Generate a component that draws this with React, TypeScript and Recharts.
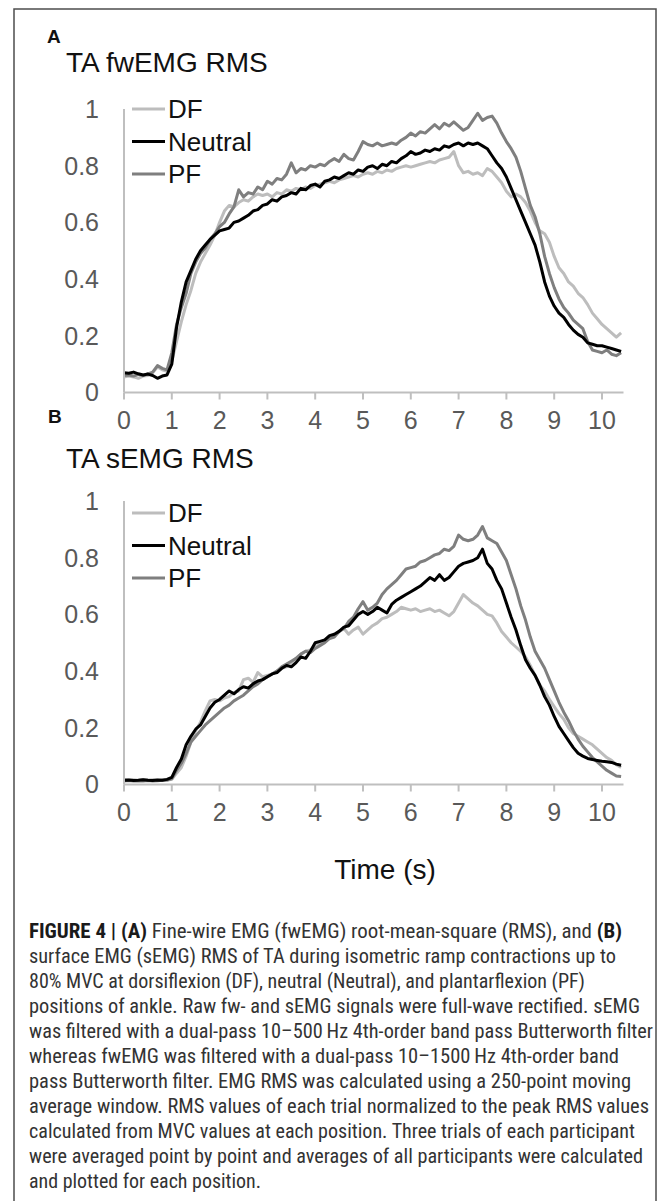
// @ts-nocheck
import React from 'react';
import { LineChart, Line, XAxis, YAxis } from 'recharts';

const FONT = '"Liberation Sans", Arial, Helvetica, sans-serif';
const NARROW = '"Liberation Sans Narrow", "Arial Narrow", "Roboto Condensed", "Liberation Sans", Arial, sans-serif';
const AXIS_GREY = '#bfbfbf';
const TICK_GREY = '#595959';

// time base (s), 0.1 s steps
const TIME = [
  0, 0.1, 0.2, 0.3, 0.4, 0.5, 0.6, 0.7, 0.8, 0.9,
  1, 1.1, 1.2, 1.3, 1.4, 1.5, 1.6, 1.7, 1.8, 1.9,
  2, 2.1, 2.2, 2.3, 2.4, 2.5, 2.6, 2.7, 2.8, 2.9,
  3, 3.1, 3.2, 3.3, 3.4, 3.5, 3.6, 3.7, 3.8, 3.9,
  4, 4.1, 4.2, 4.3, 4.4, 4.5, 4.6, 4.7, 4.8, 4.9,
  5, 5.1, 5.2, 5.3, 5.4, 5.5, 5.6, 5.7, 5.8, 5.9,
  6, 6.1, 6.2, 6.3, 6.4, 6.5, 6.6, 6.7, 6.8, 6.9,
  7, 7.1, 7.2, 7.3, 7.4, 7.5, 7.6, 7.7, 7.8, 7.9,
  8, 8.1, 8.2, 8.3, 8.4, 8.5, 8.6, 8.7, 8.8, 8.9,
  9, 9.1, 9.2, 9.3, 9.4, 9.5, 9.6, 9.7, 9.8, 9.9,
  10, 10.1, 10.2, 10.3, 10.4,
];

// panel A: fwEMG RMS
const FW_DF = [
  0.055, 0.058, 0.055, 0.05, 0.058, 0.06, 0.07, 0.09, 0.08, 0.075,
  0.11, 0.18, 0.25, 0.31, 0.36, 0.42, 0.46, 0.49, 0.52, 0.555,
  0.6, 0.64, 0.66, 0.655, 0.67, 0.68, 0.675, 0.69, 0.7, 0.695,
  0.7, 0.69, 0.705, 0.7, 0.715, 0.71, 0.72, 0.715, 0.725, 0.72,
  0.73, 0.735, 0.74, 0.745, 0.74, 0.75, 0.755, 0.76, 0.765, 0.76,
  0.77, 0.775, 0.77, 0.78, 0.775, 0.785, 0.78, 0.79, 0.795, 0.8,
  0.795, 0.8, 0.805, 0.81, 0.815, 0.81, 0.82, 0.825, 0.83, 0.85,
  0.8, 0.775, 0.78, 0.77, 0.775, 0.765, 0.79, 0.78, 0.76, 0.74,
  0.71, 0.69, 0.7, 0.69, 0.67, 0.64, 0.6, 0.57, 0.56, 0.53,
  0.48, 0.44, 0.42, 0.39, 0.375, 0.35, 0.335, 0.31, 0.28, 0.26,
  0.24, 0.225, 0.21, 0.195, 0.21,
];
const FW_NEUTRAL = [
  0.07, 0.068, 0.072, 0.066, 0.062, 0.065, 0.06, 0.05, 0.058, 0.062,
  0.1, 0.23, 0.32, 0.39, 0.43, 0.47, 0.5, 0.52, 0.54, 0.555,
  0.57, 0.575, 0.58, 0.6, 0.605, 0.615, 0.625, 0.64, 0.645, 0.66,
  0.665, 0.68, 0.675, 0.69, 0.695, 0.705, 0.7, 0.72, 0.715, 0.73,
  0.735, 0.725, 0.745, 0.75, 0.76, 0.755, 0.765, 0.775, 0.77, 0.785,
  0.78, 0.795, 0.8, 0.79, 0.805, 0.8, 0.815, 0.81, 0.825, 0.835,
  0.85, 0.84, 0.845, 0.855, 0.85, 0.86, 0.855, 0.87, 0.865, 0.875,
  0.88, 0.87, 0.88, 0.875, 0.88, 0.87, 0.86, 0.835, 0.81, 0.79,
  0.76, 0.72, 0.68, 0.64, 0.6, 0.56, 0.52, 0.46, 0.39, 0.34,
  0.305, 0.28, 0.265, 0.24, 0.22, 0.205, 0.195, 0.175, 0.17, 0.165,
  0.165, 0.16, 0.155, 0.15, 0.145,
];
const FW_PF = [
  0.06, 0.062, 0.058, 0.064, 0.06, 0.066, 0.072, 0.095, 0.085, 0.08,
  0.14, 0.24, 0.3, 0.35, 0.42, 0.46, 0.49, 0.51, 0.54, 0.56,
  0.585, 0.6, 0.63, 0.655, 0.715, 0.69, 0.705, 0.7, 0.725, 0.715,
  0.745, 0.735, 0.755, 0.75, 0.77, 0.81, 0.775, 0.79, 0.785, 0.8,
  0.795, 0.805, 0.8, 0.815, 0.825, 0.815, 0.84, 0.825, 0.82, 0.85,
  0.885, 0.875, 0.87, 0.88, 0.87, 0.875, 0.88, 0.875, 0.89, 0.9,
  0.915, 0.905, 0.92, 0.915, 0.93, 0.945, 0.93, 0.95, 0.94, 0.955,
  0.94, 0.925, 0.935, 0.96, 0.985, 0.96, 0.97, 0.975, 0.95, 0.915,
  0.885, 0.86, 0.83, 0.78, 0.72, 0.66, 0.62, 0.56, 0.48, 0.42,
  0.37, 0.33, 0.3, 0.28, 0.255, 0.24, 0.225, 0.18, 0.15, 0.145,
  0.14, 0.15, 0.135, 0.13, 0.14,
];

// panel B: sEMG RMS
const S_DF = [
  0.018, 0.016, 0.017, 0.015, 0.018, 0.016, 0.017, 0.015, 0.016, 0.015,
  0.018, 0.04, 0.06, 0.1, 0.15, 0.19, 0.22, 0.26, 0.295, 0.3,
  0.295, 0.305, 0.31, 0.325, 0.33, 0.37, 0.375, 0.36, 0.395, 0.38,
  0.385, 0.39, 0.4, 0.41, 0.415, 0.43, 0.445, 0.46, 0.47, 0.475,
  0.485, 0.5, 0.505, 0.515, 0.525, 0.54, 0.55, 0.53, 0.545, 0.555,
  0.53, 0.545, 0.56, 0.57, 0.585, 0.59, 0.6, 0.61, 0.625, 0.62,
  0.615, 0.62, 0.61, 0.615, 0.62, 0.61, 0.615, 0.605, 0.595, 0.61,
  0.64, 0.67, 0.655, 0.64, 0.63, 0.615, 0.6, 0.595, 0.57, 0.54,
  0.52, 0.5, 0.485, 0.47, 0.45, 0.42, 0.385, 0.35, 0.33, 0.3,
  0.275, 0.25, 0.23, 0.2, 0.18, 0.17, 0.16, 0.15, 0.14, 0.125,
  0.11, 0.095, 0.085, 0.07, 0.06,
];
const S_NEUTRAL = [
  0.015, 0.016, 0.014, 0.015, 0.017, 0.015, 0.014, 0.016, 0.015, 0.018,
  0.025, 0.06, 0.09, 0.14, 0.17, 0.195, 0.21, 0.24, 0.27, 0.29,
  0.3, 0.315, 0.33, 0.32, 0.335, 0.345, 0.34, 0.355, 0.365, 0.37,
  0.38, 0.39, 0.395, 0.41, 0.42, 0.415, 0.43, 0.45, 0.445, 0.47,
  0.5, 0.505, 0.51, 0.525, 0.53, 0.54, 0.555, 0.56, 0.58, 0.6,
  0.61, 0.6, 0.61, 0.625, 0.615, 0.605, 0.635, 0.65, 0.66, 0.67,
  0.68, 0.69, 0.7, 0.715, 0.73, 0.72, 0.74, 0.72, 0.73, 0.75,
  0.77, 0.78, 0.785, 0.79, 0.8, 0.83, 0.78, 0.76, 0.72, 0.69,
  0.64, 0.59, 0.545, 0.49, 0.44, 0.41, 0.385, 0.35, 0.31, 0.28,
  0.24, 0.205, 0.18, 0.155, 0.13, 0.11, 0.1, 0.092, 0.088, 0.085,
  0.082, 0.08, 0.078, 0.072, 0.068,
];
const S_PF = [
  0.012, 0.014, 0.012, 0.013, 0.012, 0.014, 0.012, 0.013, 0.015, 0.016,
  0.02, 0.05, 0.075, 0.11, 0.15, 0.17, 0.19, 0.21, 0.225, 0.24,
  0.255, 0.27, 0.28, 0.295, 0.305, 0.315, 0.33, 0.345, 0.355, 0.37,
  0.38, 0.39, 0.4, 0.415, 0.425, 0.435, 0.445, 0.46, 0.47, 0.465,
  0.48, 0.49, 0.5, 0.515, 0.52, 0.54, 0.55, 0.575, 0.59, 0.62,
  0.645, 0.615, 0.625, 0.64, 0.67, 0.69, 0.705, 0.72, 0.74, 0.76,
  0.765, 0.77, 0.785, 0.79, 0.8, 0.81, 0.815, 0.83, 0.825, 0.84,
  0.88, 0.865, 0.86, 0.865, 0.88, 0.91, 0.87, 0.86, 0.85, 0.82,
  0.79, 0.74, 0.69, 0.63, 0.58, 0.52, 0.47, 0.44, 0.41, 0.37,
  0.33, 0.29, 0.255, 0.225, 0.19, 0.16, 0.135, 0.115, 0.095, 0.08,
  0.065, 0.05, 0.04, 0.03, 0.028,
];

const X_TICKS = [0, 1, 2, 3, 4, 5, 6, 7, 8, 9, 10];
const Y_TICKS = [0, 0.2, 0.4, 0.6, 0.8, 1];

const SERIES = [
  { key: 'df', name: 'DF', color: '#bdbdbd' },
  { key: 'neutral', name: 'Neutral', color: '#000000' },
  { key: 'pf', name: 'PF', color: '#7f7f7f' },
];
// draw order: light first, black on top
const DRAW_ORDER = ['df', 'pf', 'neutral'];

const CAPTION = [
  { w: 593, parts: [['FIGURE 4 | (A)', true], [' Fine-wire EMG (fwEMG) root-mean-square (RMS), and ', false], ['(B)', true]] },
  { w: 587, parts: [['surface EMG (sEMG) RMS of TA during isometric ramp contractions up to', false]] },
  { w: 556, parts: [['80% MVC at dorsiflexion (DF), neutral (Neutral), and plantarflexion (PF)', false]] },
  { w: 611, parts: [['positions of ankle. Raw fw- and sEMG signals were full-wave rectified. sEMG', false]] },
  { w: 624, parts: [['was filtered with a dual-pass 10\u2013500\u2009Hz 4th-order band pass Butterworth filter', false]] },
  { w: 590, parts: [['whereas fwEMG was filtered with a dual-pass 10\u20131500\u2009Hz 4th-order band', false]] },
  { w: 602, parts: [['pass Butterworth filter. EMG RMS was calculated using a 250-point moving', false]] },
  { w: 620, parts: [['average window. RMS values of each trial normalized to the peak RMS values', false]] },
  { w: 606, parts: [['calculated from MVC values at each position. Three trials of each participant', false]] },
  { w: 614, parts: [['were averaged point by point and averages of all participants were calculated', false]] },
  { w: 232, parts: [['and plotted for each position.', false]] },
];

const buildRows = (df, neutral, pf) =>
  TIME.map((t, i) => ({ t, df: df[i], neutral: neutral[i], pf: pf[i] }));

const PANEL_A = buildRows(FW_DF, FW_NEUTRAL, FW_PF);
const PANEL_B = buildRows(S_DF, S_NEUTRAL, S_PF);

const tickStyle = { fontSize: 25, fill: TICK_GREY, fontFamily: FONT };

const Panel = ({ data, top, marginTop, marginBottom }) => (
  <div style={{ position: 'absolute', left: 0, top }}>
    <LineChart
      width={669}
      height={440}
      data={data}
      margin={{ top: marginTop, right: 45.5, bottom: marginBottom, left: 64 }}
    >
      <XAxis
        dataKey="t"
        type="number"
        domain={[0, 10.45]}
        ticks={X_TICKS}
        interval={0}
        height={40}
        stroke={AXIS_GREY}
        strokeWidth={2}
        tickSize={7}
        tickMargin={12}
        tick={tickStyle}
      />
      <YAxis
        type="number"
        domain={[0, 1]}
        ticks={Y_TICKS}
        interval={0}
        width={60}
        stroke={AXIS_GREY}
        strokeWidth={2}
        tickLine={false}
        tickSize={0}
        tickMargin={25}
        tick={tickStyle}
      />
      {DRAW_ORDER.map((k) => {
        const s = SERIES.find((x) => x.key === k);
        return (
          <Line
            key={k}
            type="linear"
            dataKey={k}
            name={s.name}
            stroke={s.color}
            strokeWidth={3}
            strokeLinejoin="round"
            dot={false}
            activeDot={false}
            isAnimationActive={false}
          />
        );
      })}
    </LineChart>
  </div>
);

const LegendBlock = ({ y0 }) => (
  <g>
    {SERIES.map((s, i) => (
      <g key={s.key}>
        <line x1={132} x2={165} y1={y0 + i * 32.5} y2={y0 + i * 32.5} stroke={s.color} strokeWidth={3} />
        <text x={168} y={y0 + i * 32.5 + 9} fontSize={26} fontFamily={FONT} fill="#111">
          {s.name}
        </text>
      </g>
    ))}
  </g>
);

export default function App() {
  return (
    <div style={{ position: 'absolute', left: 0, top: 0, width: 669, height: 1201, overflow: 'hidden', background: '#fff' }}>
      <svg width={669} height={1201} style={{ position: 'absolute', left: 0, top: 0 }}>
        <rect x={14} y={9} width={642} height={1260} fill="none" stroke="#4d4d4d" strokeWidth={1.5} />

        <text x={47} y={43} fontSize={19} fontWeight={700} fontFamily={FONT} fill="#111">A</text>
        <text x={66} y={72} fontSize={28} fontFamily={FONT} fill="#111">TA fwEMG RMS</text>
        <LegendBlock y0={109} />

        <text x={48} y={423} fontSize={19} fontWeight={700} fontFamily={FONT} fill="#111">B</text>
        <text x={66} y={468} fontSize={28} fontFamily={FONT} fill="#111">TA sEMG RMS</text>
        <LegendBlock y0={513} />

        <text x={385} y={879} fontSize={28} fontFamily={FONT} fill="#111" textAnchor="middle">Time (s)</text>

        {CAPTION.map((line, i) => (
          <text
            key={i}
            x={29}
            y={938 + i * 25}
            fontSize={20}
            fontFamily={NARROW}
            fill="#333"
            textLength={line.w}
            lengthAdjust="spacingAndGlyphs"
          >
            {line.parts.map(([txt, bold], j) => (
              <tspan key={j} fontWeight={bold ? 700 : 400} fill={bold ? '#1a1a1a' : '#333'}>
                {txt}
              </tspan>
            ))}
          </text>
        ))}
      </svg>

      <Panel data={PANEL_A} top={0} marginTop={109} marginBottom={7.5} />
      <Panel data={PANEL_B} top={440} marginTop={61} marginBottom={55.5} />
    </div>
  );
}
